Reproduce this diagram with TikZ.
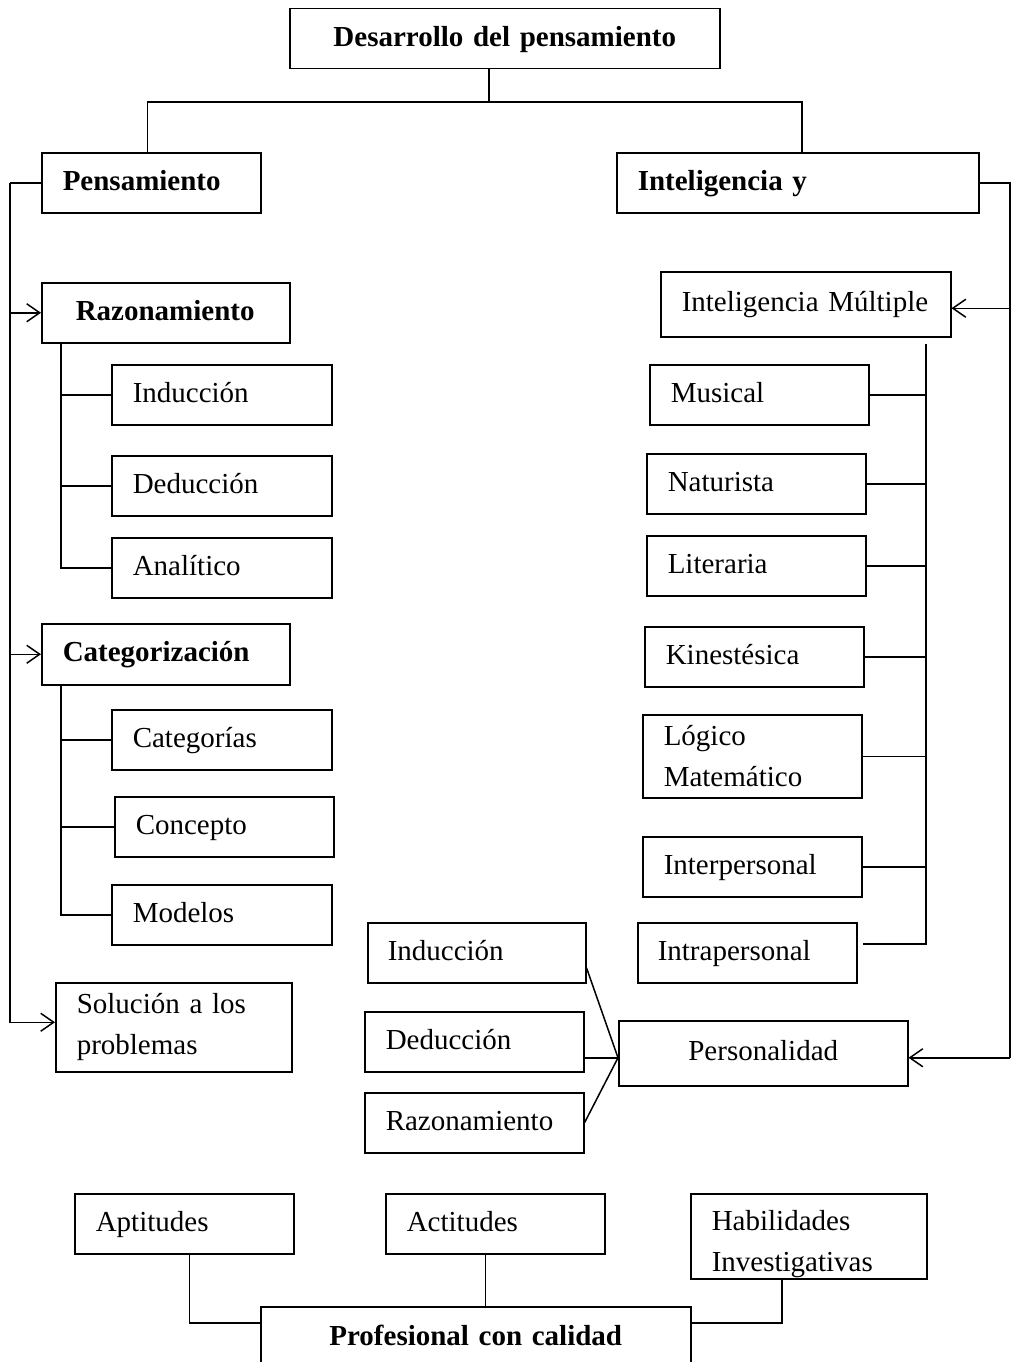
\documentclass[tikz,border=0pt]{standalone}
\usepackage{fontspec}
\setmainfont{Liberation Serif}
\usepackage{tikz}
\usetikzlibrary{arrows.meta}
\newcommand{\boxfont}{\fontsize{29}{41}\selectfont}
\tikzset{
    base-box/.style = {draw, line width=1.5pt, rectangle, anchor=north west, inner xsep=21pt, inner ysep=0pt, align=left, minimum height=60pt, font=\boxfont},
    plain-box/.style = {base-box, text height=21pt, text depth=6pt},
    bold-box/.style = {plain-box, font=\boxfont\bfseries},
    center-box/.style = {plain-box, align=center},
    link/.style = {line width=1.5pt},
    arrow-link/.style = {link, -{Straight Barb[length=13pt,width=18pt]}},
}

\begin{document}
\begin{tikzpicture}[x=1pt,y=-1pt]
\useasboundingbox (0,0) rectangle (1012,1362);
\clip (0,0) rectangle (1012,1362);

\node [center-box, font=\boxfont\bfseries, text width=388pt] (desarrollo) at (289,8) {Desarrollo del pensamiento};
\node [bold-box, text width=177pt] (pens) at (41,152) {Pensamiento};
\node [bold-box, text width=320pt] (intel) at (616,152) {Inteligencia y};

% pensamiento
\node [bold-box, inner xsep=34pt, text width=180pt] (razon) at (41,282) {Razonamiento};
\node [plain-box, text width=178pt] (ind1) at (111,364) {Inducción};
\node [plain-box, text width=178pt] (ded1) at (111,455) {Deducción};
\node [plain-box, text width=178pt] (ana) at (111,537) {Analítico};
\node [bold-box, minimum height=61pt, text width=206pt] (categ) at (41,623) {Categorización};
\node [plain-box, text width=178pt] (cats) at (111,709) {Categorías};
\node [plain-box, text width=177pt] (conc) at (114,796) {Concepto};
\node [plain-box, text width=178pt] (mod) at (111,884) {Modelos};
\node [base-box, minimum height=89pt, text width=194pt] (sol) at (55,982) {Solución a los\\problemas};

% inteligencia
\node [plain-box, minimum height=65pt, text width=248pt] (multi) at (660,271) {Inteligencia Múltiple};
\node [plain-box, text width=177pt] (mus) at (649,364) {Musical};
\node [plain-box, text width=177pt] (nat) at (646,453) {Naturista};
\node [plain-box, text width=177pt] (lit) at (646,535) {Literaria};
\node [plain-box, text width=177pt] (kin) at (644,626) {Kinestésica};
\node [base-box, minimum height=83pt, text width=177pt] (log) at (642,714) {Lógico\\Matemático};
\node [plain-box, text width=177pt] (inter) at (642,836) {Interpersonal};
\node [plain-box, inner xsep=20pt, text width=179pt] (intra) at (637,922) {Intrapersonal};

% personalidad
\node [plain-box, inner xsep=20pt, text width=178pt] (ind2) at (367,922) {Inducción};
\node [plain-box, text width=177pt] (ded2) at (364,1011) {Deducción};
\node [plain-box, text width=177pt] (raz2) at (364,1092) {Razonamiento};
\node [center-box, minimum height=65pt, text width=247pt] (perso) at (618,1020) {Personalidad};

% profesional
\node [plain-box, text width=177pt] (apt) at (74,1193) {Aptitudes};
\node [plain-box, text width=177pt] (act) at (385,1193) {Actitudes};
\node [base-box, minimum height=85pt, text width=194pt] (hab) at (690,1193) {\rule{0pt}{36pt}Habilidades\\Investigativas};
\node [center-box, font=\boxfont\bfseries, minimum height=62pt, text width=388pt] (prof) at (260,1306) {Profesional con calidad};

\coordinate (split) at (489,102);
\coordinate (left-spine) at (10,182);
\coordinate (right-spine) at (1010,182);
\coordinate (razon-stem) at (61,342);
\coordinate (categ-stem) at (61,684);
\coordinate (multi-stem) at (926,344);
\coordinate (multi-in) at ([yshift=-4pt]multi.east);
\coordinate (perso-in) at ([yshift=-4.5pt]perso.west);
\coordinate (perso-out) at ([yshift=-4.5pt]perso.east);

\draw [link] (split |- desarrollo.south) -- (split);
\draw [link] (split) -| ([xshift=-4pt]pens.north);
\draw [link] (split) -| ([xshift=4pt]intel.north);

\draw [link] (pens.west -| left-spine) -- (pens.west);
\draw [arrow-link] (pens.west -| left-spine) |- ([yshift=5pt]sol.west);
\draw [arrow-link] (left-spine |- razon.west) -- (razon.west);
\draw [arrow-link] (left-spine |- categ.west) -- (categ.west);

\draw [link] (razon-stem) |- (ana.west);
\draw [link] (razon-stem |- ind1.west) -- (ind1.west);
\draw [link] (razon-stem |- ded1.west) -- (ded1.west);
\draw [link] (categ-stem) |- (mod.west);
\draw [link] (categ-stem |- cats.west) -- (cats.west);
\draw [link] (categ-stem |- conc.west) -- (conc.west);

\draw [link] (intel.east) -- (intel.east -| right-spine) -- (right-spine |- perso-out);
\draw [arrow-link] (right-spine |- multi-in) -- (multi-in);
\draw [arrow-link] (right-spine |- perso-out) -- (perso-out);

\draw [link] (multi-stem) |- ([xshift=5pt,yshift=9pt]intra.east);
\foreach \n in {mus,nat,lit,kin,log,inter}
    \draw [link] (multi-stem |- \n.east) -- (\n.east);

\draw [link] ([yshift=-15pt]ind2.east) -- (perso-in);
\draw [link] (ded2.east |- perso-in) -- (perso-in);
\draw [link] (raz2.east) -- (perso-in);

\draw [link] ([xshift=5pt]apt.south) |- ([yshift=15pt]prof.west);
\draw [link] ([xshift=-10pt]act.south) -- ([xshift=-10pt]act.south |- prof.north);
\draw [link] ([xshift=-27pt]hab.south) |- ([yshift=15pt]prof.east);
\end{tikzpicture}
\end{document}
